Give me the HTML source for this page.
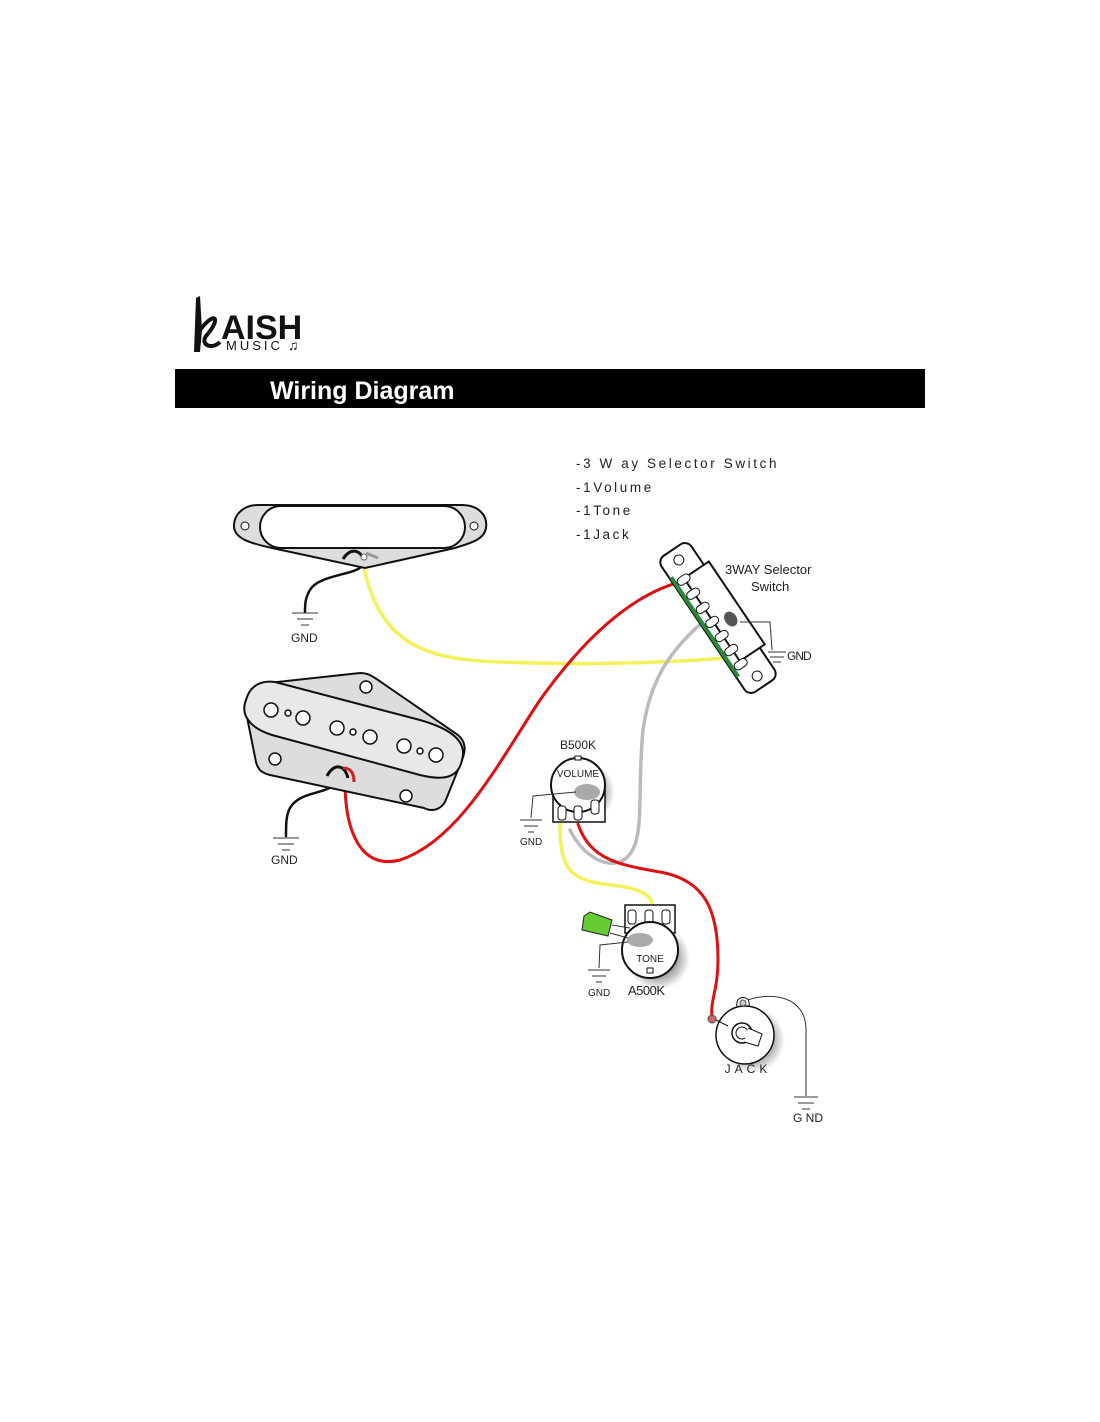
<!DOCTYPE html>
<html><head><meta charset="utf-8"><style>
html,body{margin:0;padding:0;background:#fff;}
svg{display:block;font-family:"Liberation Sans",sans-serif;}
</style></head><body>
<svg width="1100" height="1422" viewBox="0 0 1100 1422" xmlns="http://www.w3.org/2000/svg">
<defs>
<radialGradient id="sh" cx="0.5" cy="0.5" r="0.5"><stop offset="0.6" stop-color="#000" stop-opacity="0.35"/><stop offset="1" stop-color="#000" stop-opacity="0"/></radialGradient>
</defs>
<!-- logo -->
<path d="M196 298 L200 296 L202 330 L200 352 L194 352 Z" fill="#111"/>
<path d="M200 330 C215 310 222 318 206 336 C200 345 212 350 220 342" fill="none" stroke="#111" stroke-width="4"/>
<text x="221" y="339" font-size="34" font-weight="bold" fill="#111">AISH</text>
<text x="226" y="350" font-size="13" letter-spacing="3" fill="#111">MUSIC</text>
<text x="288" y="350" font-size="14" fill="#111">♫</text>
<!-- header bar -->
<rect x="175" y="369" width="750" height="39" fill="#000"/>
<text x="270" y="399" font-size="25" font-weight="bold" fill="#fff">Wiring Diagram</text>
<!-- list -->
<g font-size="13.5" fill="#222" letter-spacing="2.6">
<text x="576" y="468">-3 W ay Selector Switch</text>
<text x="576" y="492">-1Volume</text>
<text x="576" y="515">-1Tone</text>
<text x="576" y="539">-1Jack</text>
</g>
<!-- wires -->
<g fill="none" stroke-linecap="round">
<path d="M364 568 C380 640 420 660 500 662 C600 666 680 662 740 657" stroke="#f2f25a" stroke-width="3.5"/>
<path d="M345 782 C345 830 360 870 400 860 C460 840 500 760 540 700 C590 630 640 590 688 580" stroke="#d11" stroke-width="3"/>
<path d="M705 620 C670 650 650 680 643 730 C636 800 648 850 620 862 C600 868 580 850 570 830" stroke="#bbb" stroke-width="3.5"/>
<path d="M560 824 C560 870 570 880 610 885 C640 888 652 895 652 905" stroke="#f2f25a" stroke-width="3.5"/>
<path d="M578 824 C590 860 620 865 660 872 C705 880 718 910 718 960 C718 990 710 1000 712 1018" stroke="#d11" stroke-width="3"/>
<path d="M362 566 C355 575 318 575 310 590 C305 598 305 605 305 612" stroke="#111" stroke-width="2.5"/>
<path d="M335 782 C330 795 300 790 290 808 C286 815 286 825 286 836" stroke="#111" stroke-width="2.5"/>
</g>
<!-- neck pickup -->
<path d="M258 505 L462 505 C478 505 488 515 486 528 C484 540 470 543 455 548 L365 568 L272 548 C255 544 234 540 234 526 C234 514 244 505 258 505 Z" fill="#ddd" stroke="#111" stroke-width="2"/>
<rect x="260" y="506" width="205" height="42" rx="21" fill="#fff" stroke="#111" stroke-width="2"/>
<circle cx="245" cy="526" r="4" fill="#fff" stroke="#111"/><circle cx="474" cy="526" r="4" fill="#fff" stroke="#111"/>
<path d="M343 559 C350 548 358 550 362 556" stroke="#111" stroke-width="3" fill="none"/>
<circle cx="364" cy="557" r="3" fill="#fff" stroke="#666"/>
<path d="M366 553 L378 558" stroke="#999" stroke-width="3"/>
<g stroke="#333"><line x1="292" y1="613" x2="318" y2="613"/><line x1="297" y1="619" x2="313" y2="619"/><line x1="301" y1="625" x2="309" y2="625"/></g>
<text x="291" y="642" font-size="12" fill="#222">GND</text>
<!-- bridge pickup -->
<path d="M268 683 L360 673 C368 673 372 676 378 680 L458 735 C466 742 466 750 462 760 L445 802 C440 810 432 812 424 808 L270 775 C262 773 258 770 256 762 L246 712 C243 698 252 685 268 683 Z" fill="#ddd" stroke="#111" stroke-width="2"/>
<path d="M275 682 L420 720 C448 728 468 740 462 760 C458 780 440 780 420 775 L272 735 C250 728 240 715 246 700 C250 685 262 680 275 682 Z" fill="#e8e8e8" stroke="#111" stroke-width="2"/>
<g fill="#fff" stroke="#111" stroke-width="1.5">
<circle cx="271" cy="710" r="7"/><circle cx="288" cy="713" r="3"/><circle cx="303" cy="718" r="7"/>
<circle cx="337" cy="728" r="7"/><circle cx="353" cy="732" r="3"/><circle cx="370" cy="737" r="7"/>
<circle cx="404" cy="746" r="7"/><circle cx="420" cy="751" r="3"/><circle cx="436" cy="755" r="7"/>
<circle cx="366" cy="687" r="6"/><circle cx="275" cy="759" r="6"/><circle cx="406" cy="796" r="6"/>
</g>
<path d="M327 776 C333 764 344 763 348 778" stroke="#111" stroke-width="3" fill="none"/>
<path d="M343 768 C352 768 354 775 354 782" stroke="#c22" stroke-width="3" fill="none"/>
<g stroke="#333"><line x1="273" y1="838" x2="299" y2="838"/><line x1="278" y1="844" x2="294" y2="844"/><line x1="282" y1="850" x2="290" y2="850"/></g>
<text x="271" y="864" font-size="12" fill="#222">GND</text>
<!-- switch -->
<g transform="translate(718 618) rotate(56) scale(1 -1)">
<rect x="-82" y="-18" width="164" height="36" rx="8" fill="#fff" stroke="#111" stroke-width="2"/>
<rect x="-52" y="-6" width="100" height="30" fill="#fff" stroke="#111" stroke-width="2"/>
<rect x="-60" y="-18" width="120" height="4" fill="#2a8a3a"/>
<circle cx="-70" cy="0" r="5" fill="#fff" stroke="#111"/><circle cx="70" cy="0" r="5" fill="#fff" stroke="#111"/>
<g fill="#fff" stroke="#111"><rect x="-55" y="-14" width="8" height="14" rx="4"/><rect x="-38" y="-14" width="8" height="14" rx="4"/><rect x="-21" y="-14" width="8" height="14" rx="4"/><rect x="-4" y="-14" width="8" height="14" rx="4"/><rect x="13" y="-14" width="8" height="14" rx="4"/><rect x="30" y="-14" width="8" height="14" rx="4"/><rect x="47" y="-14" width="8" height="14" rx="4"/></g>
<ellipse cx="8" cy="10" rx="8" ry="6" fill="#555"/>
</g>
<path d="M740 622 L770 622 L772 650" stroke="#333" fill="none"/>
<g stroke="#333"><line x1="768" y1="652" x2="786" y2="652"/><line x1="770" y1="657" x2="784" y2="657"/><line x1="773" y1="662" x2="781" y2="662"/></g>
<text x="787" y="660" font-size="12" fill="#222" letter-spacing="-1">GND</text>
<text x="725" y="574" font-size="13" fill="#222">3WAY Selector</text>
<text x="751" y="591" font-size="13" fill="#222">Switch</text>
<!-- volume pot -->
<circle cx="585" cy="792" r="30" fill="url(#sh)"/>
<rect x="553" y="790" width="52" height="32" fill="#fff" stroke="#111" stroke-width="1.5"/>
<circle cx="578" cy="785" r="27" fill="#fff" stroke="#111" stroke-width="2"/>
<rect x="575" y="756" width="6" height="4" fill="#fff" stroke="#111"/>
<text x="578" y="777" font-size="10" text-anchor="middle" fill="#222">VOLUME</text>
<ellipse cx="587" cy="792" rx="13" ry="8" fill="#aaa"/>
<g fill="#fff" stroke="#111"><rect x="558" y="806" width="8" height="14" rx="3"/><rect x="574" y="806" width="8" height="14" rx="3"/><rect x="591" y="800" width="8" height="14" rx="3"/></g>
<path d="M576 792 L533 796 L531 818" stroke="#333" fill="none"/>
<g stroke="#333"><line x1="520" y1="820" x2="542" y2="820"/><line x1="524" y1="826" x2="538" y2="826"/><line x1="528" y1="832" x2="534" y2="832"/></g>
<text x="520" y="845" font-size="10" fill="#222">GND</text>
<text x="578" y="749" font-size="12" text-anchor="middle" fill="#222">B500K</text>
<!-- tone pot -->
<circle cx="658" cy="958" r="32" fill="url(#sh)"/>
<rect x="625" y="905" width="50" height="28" fill="#fff" stroke="#111" stroke-width="1.5"/>
<g fill="#fff" stroke="#111"><rect x="628" y="910" width="8" height="14" rx="3"/><rect x="645" y="910" width="8" height="14" rx="3"/><rect x="662" y="910" width="8" height="14" rx="3"/></g>
<circle cx="650" cy="950" r="28" fill="#fff" stroke="#111" stroke-width="2"/>
<ellipse cx="640" cy="940" rx="13" ry="7" fill="#aaa"/>
<text x="650" y="962" font-size="10" text-anchor="middle" fill="#222">TONE</text>
<rect x="647" y="968" width="6" height="5" fill="#fff" stroke="#111"/>
<polygon points="584,916 590,912 612,920 608,936 582,930" fill="#6c3" stroke="#222"/>
<line x1="612" y1="925" x2="630" y2="928" stroke="#333"/><line x1="610" y1="933" x2="628" y2="938" stroke="#333"/>
<path d="M628 942 L600 945 L599 968" stroke="#333" fill="none"/>
<g stroke="#333"><line x1="588" y1="970" x2="610" y2="970"/><line x1="592" y1="976" x2="606" y2="976"/><line x1="596" y1="982" x2="602" y2="982"/></g>
<text x="588" y="996" font-size="10" fill="#222">GND</text>
<text x="628" y="995" font-size="13" fill="#222" letter-spacing="-0.5">A500K</text>
<!-- jack -->
<circle cx="752" cy="1040" r="33" fill="url(#sh)"/>
<path d="M736 1015 L737 1002 C738 996 748 996 749 1002 L750 1012" fill="#fff" stroke="#111"/>
<circle cx="745" cy="1035" r="29" fill="#fff" stroke="#111" stroke-width="1.5"/>
<circle cx="743" cy="1003" r="3" fill="#ccc" stroke="#555"/>
<circle cx="742" cy="1033" r="10" fill="#fff" stroke="#111" stroke-width="1.5"/>
<circle cx="742" cy="1033" r="6" fill="#fff" stroke="#111"/>
<path d="M748 1028 L762 1034 L758 1046 L744 1042" fill="#fff" stroke="#111"/>
<circle cx="712" cy="1019" r="4" fill="#c66" stroke="#555"/>
<path d="M716 1020 L728 1026" stroke="#111"/>
<path d="M748 1000 C770 992 806 995 806 1030 L806 1096" stroke="#333" fill="none"/>
<g stroke="#333"><line x1="794" y1="1097" x2="818" y2="1097"/><line x1="798" y1="1103" x2="814" y2="1103"/><line x1="802" y1="1109" x2="810" y2="1109"/></g>
<text x="793" y="1122" font-size="12" fill="#222">G ND</text>
<text x="748" y="1073" font-size="12" text-anchor="middle" fill="#222" letter-spacing="4">JACK</text>
</svg>
</body></html>
